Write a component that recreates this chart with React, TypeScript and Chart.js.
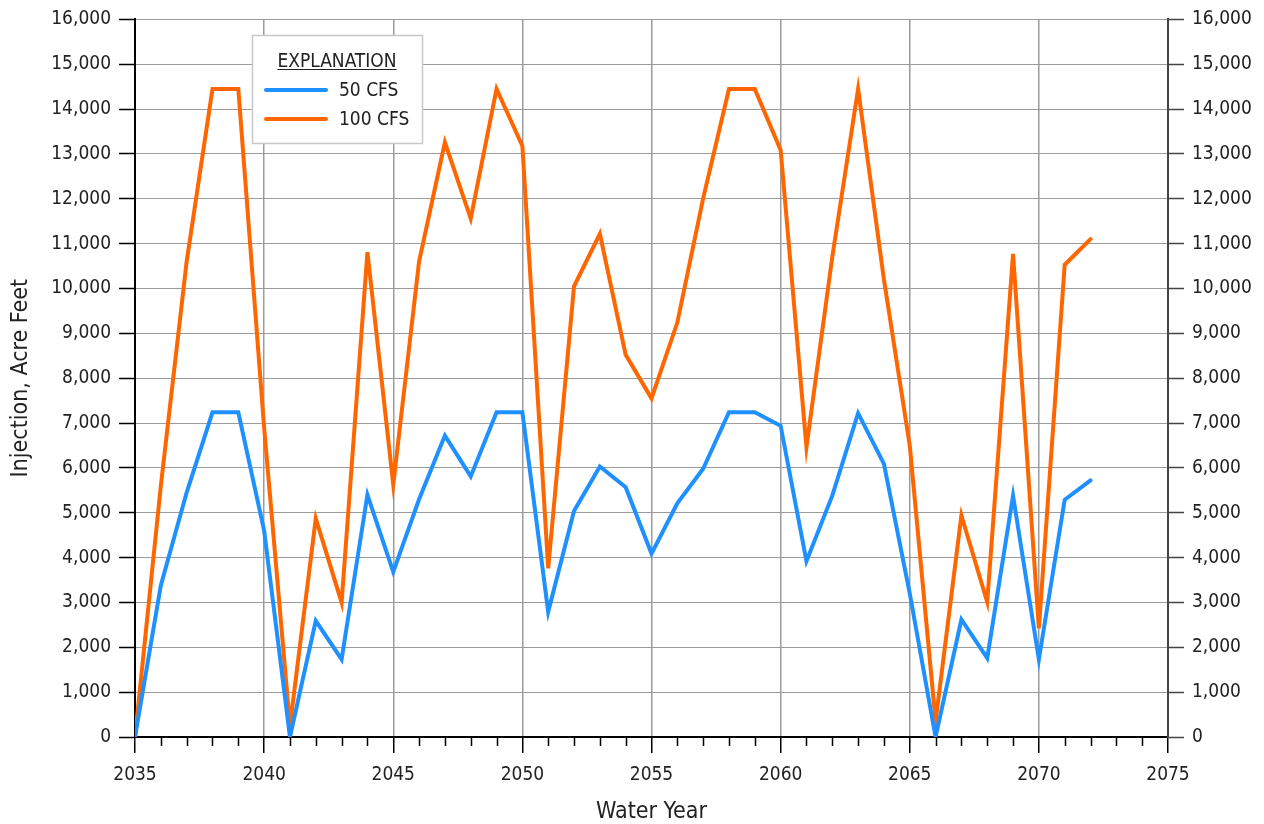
import React, { useEffect, useRef } from "react";
import { Chart, registerables } from "chart.js";

Chart.register(...registerables);

// Water years shown on the horizontal axis
const years: number[] = [
  2035, 2036, 2037, 2038, 2039, 2040, 2041, 2042, 2043, 2044,
  2045, 2046, 2047, 2048, 2049, 2050, 2051, 2052, 2053, 2054,
  2055, 2056, 2057, 2058, 2059, 2060, 2061, 2062, 2063, 2064,
  2065, 2066, 2067, 2068, 2069, 2070, 2071, 2072,
];

// Annual injection, acre-feet, at 50 cubic feet per second
const injection50Cfs: number[] = [
  0, 3380, 5450, 7240, 7240, 4600, 0, 2590, 1730, 5400,
  3680, 5300, 6720, 5810, 7240, 7240, 2790, 5040, 6030, 5570,
  4090, 5210, 5980, 7240, 7240, 6940, 3920, 5380, 7220, 6090,
  3200, 0, 2620, 1760, 5380, 1730, 5290, 5720,
];

// Annual injection, acre-feet, at 100 cubic feet per second
const injection100Cfs: number[] = [
  0, 5600, 10600, 14450, 14450, 6900, 250, 4870, 3000, 10810,
  5630, 10600, 13260, 11560, 14450, 13180, 3760, 10050, 11220, 8520,
  7550, 9240, 12010, 14450, 14450, 13090, 6460, 10700, 14450, 10200,
  6500, 350, 4940, 3010, 10770, 2420, 10530, 11100,
];

const seriesLabels: string[] = ["50 CFS", "100 CFS"];
const seriesColors: string[] = ["#1e90ff", "#ff6600"];

const xTitle = "Water Year";
const yTitle = "Injection, Acre Feet";
const legendTitle = "EXPLANATION";

const X_MIN = 2035;
const X_MAX = 2075;
const Y_MIN = 0;
const Y_MAX = 16000;

const FONT = "'Liberation Sans Narrow', 'Arial Narrow', 'DejaVu Sans Condensed', 'Liberation Sans', Arial, sans-serif";
const TEXT = "#222222";
const GRID = "#9c9c9c";

const fmt = (v: number) => Number(v).toLocaleString("en-US");

// Short unlabeled ticks for every year between the 5-year marks
const minorTicks = {
  id: "minorTicks",
  afterDraw(chart: any) {
    const x = chart.scales.x;
    const ctx = chart.ctx;
    const bottom = chart.chartArea.bottom;
    ctx.save();
    ctx.strokeStyle = "#000";
    ctx.lineWidth = 1.5;
    for (let yr = X_MIN; yr <= X_MAX; yr++) {
      if (yr % 5 === 0) continue;
      const px = Math.round(x.getPixelForValue(yr)) + 0.5;
      ctx.beginPath();
      ctx.moveTo(px, bottom);
      ctx.lineTo(px, bottom + 9);
      ctx.stroke();
    }
    ctx.restore();
  },
};

// Boxed "EXPLANATION" legend inside the plot area
const explanationBox = {
  id: "explanationBox",
  afterDraw(chart: any) {
    const ctx = chart.ctx;
    const left = 252;
    const top = 35;
    const w = 170;
    const h = 108;
    ctx.save();
    ctx.fillStyle = "#ffffff";
    ctx.fillRect(left, top, w, h);
    ctx.strokeStyle = "#c8c8c8";
    ctx.lineWidth = 1.5;
    ctx.strokeRect(left + 0.5, top + 0.5, w, h);

    ctx.fillStyle = TEXT;
    ctx.font = `19px ${FONT}`;
    ctx.textAlign = "center";
    ctx.textBaseline = "alphabetic";
    const cx = left + 85;
    ctx.fillText(legendTitle, cx, 67);
    const tw = ctx.measureText(legendTitle).width;
    ctx.strokeStyle = TEXT;
    ctx.lineWidth = 1.2;
    ctx.beginPath();
    ctx.moveTo(cx - tw / 2, 69.5);
    ctx.lineTo(cx + tw / 2, 69.5);
    ctx.stroke();

    chart.data.datasets.forEach((ds: any, i: number) => {
      const y = 90 + i * 29;
      ctx.strokeStyle = ds.borderColor;
      ctx.lineWidth = 4;
      ctx.lineCap = "round";
      ctx.beginPath();
      ctx.moveTo(266, y);
      ctx.lineTo(326, y);
      ctx.stroke();
      ctx.fillStyle = TEXT;
      ctx.textAlign = "left";
      ctx.textBaseline = "middle";
      ctx.fillText(ds.label, 339, y + 1);
    });
    ctx.restore();
  },
};

export default function App() {
  const canvasRef = useRef<HTMLCanvasElement | null>(null);

  useEffect(() => {
    const canvas = canvasRef.current;
    if (!canvas) return;

    const toPoints = (vals: number[]) => years.map((yr, i) => ({ x: yr, y: vals[i] }));

    const chart = new Chart(canvas, {
      type: "line",
      data: {
        datasets: [
          {
            label: seriesLabels[0],
            data: toPoints(injection50Cfs),
            borderColor: seriesColors[0],
            backgroundColor: seriesColors[0],
            borderWidth: 4,
            pointRadius: 0,
            borderJoinStyle: "miter",
            borderCapStyle: "round",
            tension: 0,
            yAxisID: "y",
          },
          {
            label: seriesLabels[1],
            data: toPoints(injection100Cfs),
            borderColor: seriesColors[1],
            backgroundColor: seriesColors[1],
            borderWidth: 4,
            pointRadius: 0,
            borderJoinStyle: "miter",
            borderCapStyle: "round",
            tension: 0,
            yAxisID: "y",
          },
        ],
      },
      options: {
        responsive: false,
        animation: false,
        devicePixelRatio: 1,
        layout: { padding: { top: 17, left: 0, right: 0, bottom: 0 } },
        plugins: {
          legend: { display: false },
          tooltip: { enabled: false },
        },
        scales: {
          x: {
            type: "linear",
            position: "bottom",
            min: X_MIN,
            max: X_MAX,
            ticks: {
              stepSize: 5,
              color: TEXT,
              font: { family: FONT, size: 19 },
              padding: 11,
              maxRotation: 0,
              callback: (v: any) => String(v),
            },
            grid: {
              color: GRID,
              lineWidth: 1.5,
              tickLength: 16,
              tickColor: "#000",
              tickWidth: 1.5,
            },
            border: { display: true, color: "#000", width: 2 },
            title: {
              display: true,
              text: xTitle,
              color: TEXT,
              font: { family: FONT, size: 23, lineHeight: 1 },
              padding: { top: 0, bottom: 0 },
            },
            afterFit: (s: any) => {
              s.height = 87;
            },
          },
          y: {
            position: "left",
            min: Y_MIN,
            max: Y_MAX,
            ticks: {
              stepSize: 1000,
              color: TEXT,
              font: { family: FONT, size: 19 },
              padding: 8,
              callback: (v: any) => fmt(v),
            },
            grid: {
              color: GRID,
              lineWidth: 1,
              tickLength: 16,
              tickColor: "#000",
              tickWidth: 1.5,
            },
            border: { display: true, color: "#000", width: 2 },
            title: {
              display: true,
              text: yTitle,
              color: TEXT,
              font: { family: FONT, size: 23, lineHeight: 1 },
              padding: { top: 10, bottom: 0 },
            },
            afterFit: (s: any) => {
              s.width = 135;
            },
          },
          y2: {
            position: "right",
            min: Y_MIN,
            max: Y_MAX,
            ticks: {
              stepSize: 1000,
              color: TEXT,
              font: { family: FONT, size: 19 },
              padding: 8,
              callback: (v: any) => fmt(v),
            },
            grid: {
              drawOnChartArea: false,
              tickLength: 16,
              tickColor: "#444",
              tickWidth: 1.5,
            },
            border: { display: true, color: "#444", width: 2 },
            afterFit: (s: any) => {
              s.width = 96;
            },
          },
        },
      },
      plugins: [minorTicks, explanationBox],
    } as any);

    return () => chart.destroy();
  }, []);

  return (
    <div style={{ position: "absolute", left: 0, top: 0, width: 1264, height: 824, background: "#fff" }}>
      <canvas ref={canvasRef} width={1264} height={824} style={{ display: "block" }} />
    </div>
  );
}
